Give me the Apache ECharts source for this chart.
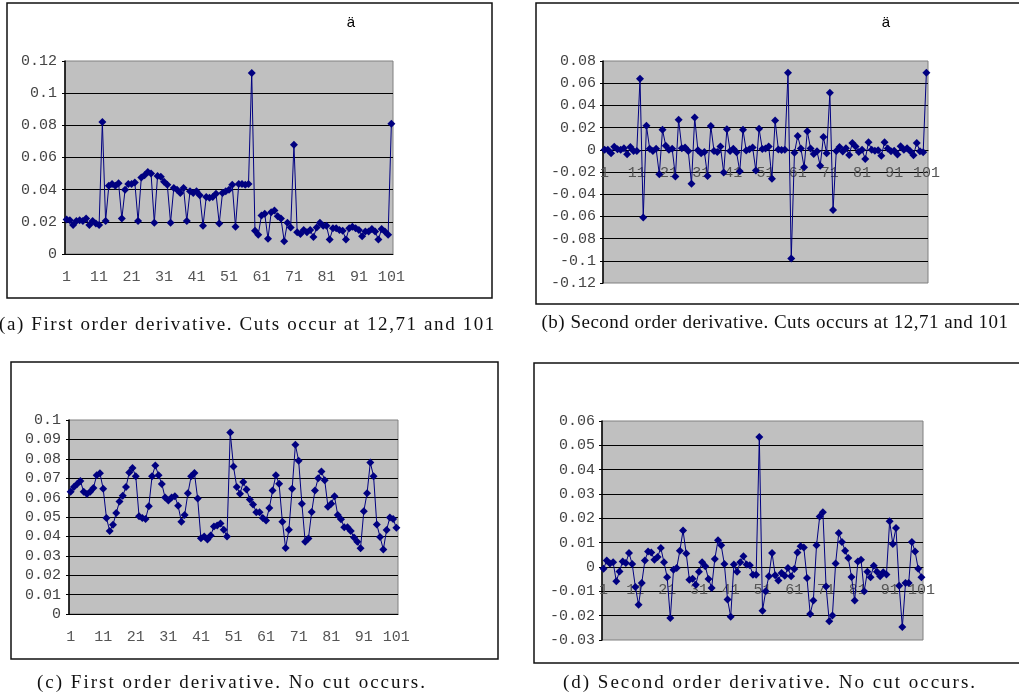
<!DOCTYPE html>
<html>
<head>
<meta charset="utf-8">
<script src="https://cdn.jsdelivr.net/npm/echarts@6/dist/echarts.min.js"></script>
<style>
  body { margin: 0; background: #fff; }
  #wrap { position: relative; width: 1019px; height: 699px; overflow: hidden; }
  #chart { position: absolute; left: 0; top: 0; width: 1019px; height: 699px; }
  .cap { position: absolute; font-family: "Liberation Serif", serif; font-size: 19px;
         color: #111; white-space: nowrap; text-align: center; }
</style>
</head>
<body>
<div id="wrap">
  <div id="chart"></div>
  <div class="cap" style="left:-10px; top:313px; width:515px; letter-spacing:1.6px;">(a) First order derivative. Cuts occur at 12,71 and 101</div>
  <div class="cap" style="left:535px; top:311px; width:480px; letter-spacing:0.5px;">(b) Second order derivative. Cuts occurs at 12,71 and 101</div>
  <div class="cap" style="left:22px; top:671px; width:420px; letter-spacing:2px;">(c) First order derivative. No cut occurs.</div>
  <div class="cap" style="left:550px; top:671px; width:440px; letter-spacing:2px;">(d) Second order derivative. No cut occurs.</div>
</div>
<script>
// frame index 1..101
var frames = [];
for (var i = 1; i <= 101; i++) frames.push(String(i));

// (a) first order derivative, with cuts
var firstCut = [
  0.0215, 0.021, 0.018, 0.0205, 0.021, 0.0205, 0.022, 0.018, 0.0205, 0.019,
  0.018, 0.082, 0.0205, 0.0425, 0.0435, 0.0425, 0.044, 0.022, 0.040, 0.0435,
  0.0435, 0.0445, 0.0205, 0.0475, 0.049, 0.051, 0.050, 0.0195, 0.0485, 0.048,
  0.045, 0.043, 0.0195, 0.041, 0.040, 0.038, 0.041, 0.0205, 0.039, 0.038,
  0.039, 0.0365, 0.0175, 0.0355, 0.035, 0.0355, 0.0375, 0.019, 0.038, 0.039,
  0.040, 0.043, 0.017, 0.0435, 0.0435, 0.043, 0.0435, 0.1125, 0.0145, 0.012,
  0.024, 0.025, 0.0095, 0.026, 0.027, 0.0235, 0.022, 0.008, 0.0195, 0.0165,
  0.068, 0.0135, 0.0125, 0.015, 0.0135, 0.015, 0.0105, 0.0165, 0.0195, 0.0175,
  0.0175, 0.009, 0.016, 0.016, 0.015, 0.0145, 0.009, 0.016, 0.017, 0.016,
  0.015, 0.011, 0.014, 0.014, 0.0155, 0.014, 0.009, 0.0155, 0.014, 0.012,
  0.081
];

// (b) second order derivative, with cuts
var secondCut = [
  0, 0, -0.003, 0.0027, 0.0005, 0, 0.0015, -0.004, 0.0025, -0.001,
  -0.001, 0.064, -0.061, 0.0217, 0.001, -0.001, 0.001, -0.022, 0.018, 0.0037,
  0, 0.001, -0.024, 0.027, 0.0015, 0.002, -0.001, -0.0305, 0.029, -0.0005,
  -0.003, -0.002, -0.0235, 0.0215, -0.001, -0.002, 0.003, -0.0205, 0.0185, -0.001,
  0.001, -0.0023, -0.0193, 0.018, -0.0006, 0.0006, 0.002, -0.0187, 0.019, 0.0008,
  0.0012, 0.003, -0.026, 0.0265, 0.0002, -0.0002, 0, 0.0694, -0.098, -0.0027,
  0.0124, 0.0011, -0.0158, 0.0168, 0.0011, -0.0038, -0.0014, -0.0143, 0.0116, -0.0031,
  0.0514, -0.0543, -0.001, 0.0026, -0.0015, 0.0015, -0.0046, 0.0062, 0.0029, -0.002,
  0, -0.0083, 0.0067, 0, -0.0008, -0.0005, -0.0054, 0.0067, 0.0012, -0.0012,
  -0.0008, -0.0042, 0.0031, 0, 0.0014, -0.0014, -0.0048, 0.0062, -0.0014, -0.0021,
  0.0694
];

// (c) first order derivative, no cut
var firstNoCut = [
  0.063, 0.0655, 0.067, 0.0686, 0.063, 0.0618, 0.063, 0.065, 0.0715, 0.0725,
  0.0645, 0.0495, 0.0428, 0.046, 0.052, 0.058, 0.061, 0.0655, 0.073, 0.0752,
  0.071, 0.0504, 0.0495, 0.049, 0.0555, 0.071, 0.0765, 0.0715, 0.067, 0.060,
  0.0585, 0.060, 0.0607, 0.0558, 0.0476, 0.051, 0.0622, 0.071, 0.0727, 0.0595,
  0.039, 0.040, 0.0384, 0.0405, 0.0451, 0.0456, 0.0466, 0.0434, 0.040, 0.0935,
  0.076, 0.0655, 0.062, 0.068, 0.0642, 0.059, 0.0565, 0.0525, 0.0524, 0.0495,
  0.0482, 0.0546, 0.0636, 0.0715, 0.0671, 0.0476, 0.034, 0.0434, 0.0645, 0.0872,
  0.079, 0.0568, 0.0373, 0.0389, 0.0526, 0.0636, 0.07, 0.0735, 0.069, 0.0553,
  0.0568, 0.0607, 0.051, 0.0488, 0.0447, 0.0447, 0.0428, 0.0394, 0.0372, 0.0339,
  0.053, 0.0622, 0.0781, 0.071, 0.0461, 0.0397, 0.0332, 0.0433, 0.0498, 0.049,
  0.0444
];

// (d) second order derivative, no cut
var secondNoCut = [
  -0.0007, 0.0027, 0.0014, 0.002, -0.0059, -0.0018, 0.0023, 0.0016, 0.0058, 0.0012,
  -0.0082, -0.0155, -0.0066, 0.0027, 0.0064, 0.006, 0.003, 0.0041, 0.0078, 0.002,
  -0.0042, -0.021, -0.0011, -0.0004, 0.0067, 0.015, 0.0055, -0.0052, -0.0048, -0.0073,
  -0.002, 0.002, 0.0003, -0.0049, -0.0086, 0.0033, 0.011, 0.0089, 0.0012, -0.0134,
  -0.0204, 0.001, -0.002, 0.002, 0.0044, 0.001, 0.0007, -0.0032, -0.0032, 0.0534,
  -0.018, -0.010, -0.0038, 0.0058, -0.0034, -0.0055, -0.0025, -0.0036, -0.0004, -0.0038,
  -0.0008, 0.006, 0.0085, 0.008, -0.0045, -0.0193, -0.0138, 0.0089, 0.0208, 0.0225,
  -0.008, -0.0223, -0.0199, 0.0014, 0.014, 0.0103, 0.0067, 0.0037, -0.0041, -0.0138,
  0.0023, 0.003, -0.010, -0.002, -0.0042, 0.0005, -0.002, -0.0038, -0.0022, -0.0031,
  0.0188, 0.0095, 0.016, -0.0077, -0.0247, -0.0066, -0.0066, 0.0103, 0.0064, -0.0007,
  -0.0042
];

var chart = echarts.init(document.getElementById('chart'));

var labelFont = { fontFamily: 'Liberation Mono', fontSize: 15, color: '#444' };

function grid(left, top, width, height) {
  return {
    left: left, top: top, width: width, height: height,
    show: true, backgroundColor: '#c0c0c0', borderColor: '#808080', borderWidth: 1
  };
}

// offset lifts the category axis up to the zero line for the panels with negatives
function xAxis(idx, offset) {
  return {
    type: 'category', gridIndex: idx, data: frames, boundaryGap: true,
    position: 'bottom', offset: offset,
    axisLine: { onZero: false, lineStyle: { color: '#000', width: 1 } },
    axisTick: { inside: true, length: 5, interval: 0, lineStyle: { color: '#000' } },
    axisLabel: Object.assign({ interval: 9, margin: 16 }, labelFont, { color: '#555' }),
    splitLine: { show: false }
  };
}

function yAxis(idx, min, max, step, margin) {
  return {
    type: 'value', gridIndex: idx, min: min, max: max, interval: step,
    axisLine: { show: true, onZero: false, lineStyle: { color: '#000', width: 1.5 } },
    axisTick: { show: true, length: 3, lineStyle: { color: '#000' } },
    axisLabel: Object.assign({
      margin: margin,
      formatter: function (v) { return String(+v.toFixed(3)); }
    }, labelFont),
    splitLine: { show: true, showMinLine: false, showMaxLine: false, lineStyle: { color: '#000', width: 1 } }
  };
}

function series(idx, data) {
  return {
    type: 'line', xAxisIndex: idx, yAxisIndex: idx, data: data,
    symbol: 'diamond', symbolSize: 8, showAllSymbol: true,
    lineStyle: { color: '#000080', width: 1 },
    itemStyle: { color: '#000080' },
    emphasis: { disabled: true }
  };
}

var option = {
  animation: false,
  backgroundColor: '#fff',
  grid: [
    grid(65, 61, 328, 193),
    grid(603, 61, 325, 222),
    grid(69, 420, 329, 194),
    grid(602, 421, 321, 219)
  ],
  xAxis: [xAxis(0, 0), xAxis(1, -133.2), xAxis(2, 0), xAxis(3, -73)],
  yAxis: [
    yAxis(0, 0, 0.12, 0.02, 8),
    yAxis(1, -0.12, 0.08, 0.02, 7),
    yAxis(2, 0, 0.1, 0.01, 8),
    yAxis(3, -0.03, 0.06, 0.01, 7)
  ],
  series: [
    series(0, firstCut),
    series(1, secondCut),
    series(2, firstNoCut),
    series(3, secondNoCut)
  ],
  graphic: [
    { type: 'rect', shape: { x: 7, y: 3, width: 485, height: 295 }, style: { fill: 'none', stroke: '#111', lineWidth: 1.5 }, z: -1 },
    { type: 'rect', shape: { x: 536, y: 3, width: 500, height: 301 }, style: { fill: 'none', stroke: '#111', lineWidth: 1.5 }, z: -1 },
    { type: 'rect', shape: { x: 11, y: 362, width: 487, height: 297 }, style: { fill: 'none', stroke: '#111', lineWidth: 1.5 }, z: -1 },
    { type: 'rect', shape: { x: 534, y: 363, width: 500, height: 300 }, style: { fill: 'none', stroke: '#111', lineWidth: 1.5 }, z: -1 },
    { type: 'text', x: 351, y: 23, style: { text: 'ä', font: '15px "Liberation Sans"', fill: '#000', align: 'center', verticalAlign: 'middle' } },
    { type: 'text', x: 886, y: 23, style: { text: 'ä', font: '15px "Liberation Sans"', fill: '#000', align: 'center', verticalAlign: 'middle' } }
  ]
};

chart.setOption(option);
</script>
</body>
</html>
